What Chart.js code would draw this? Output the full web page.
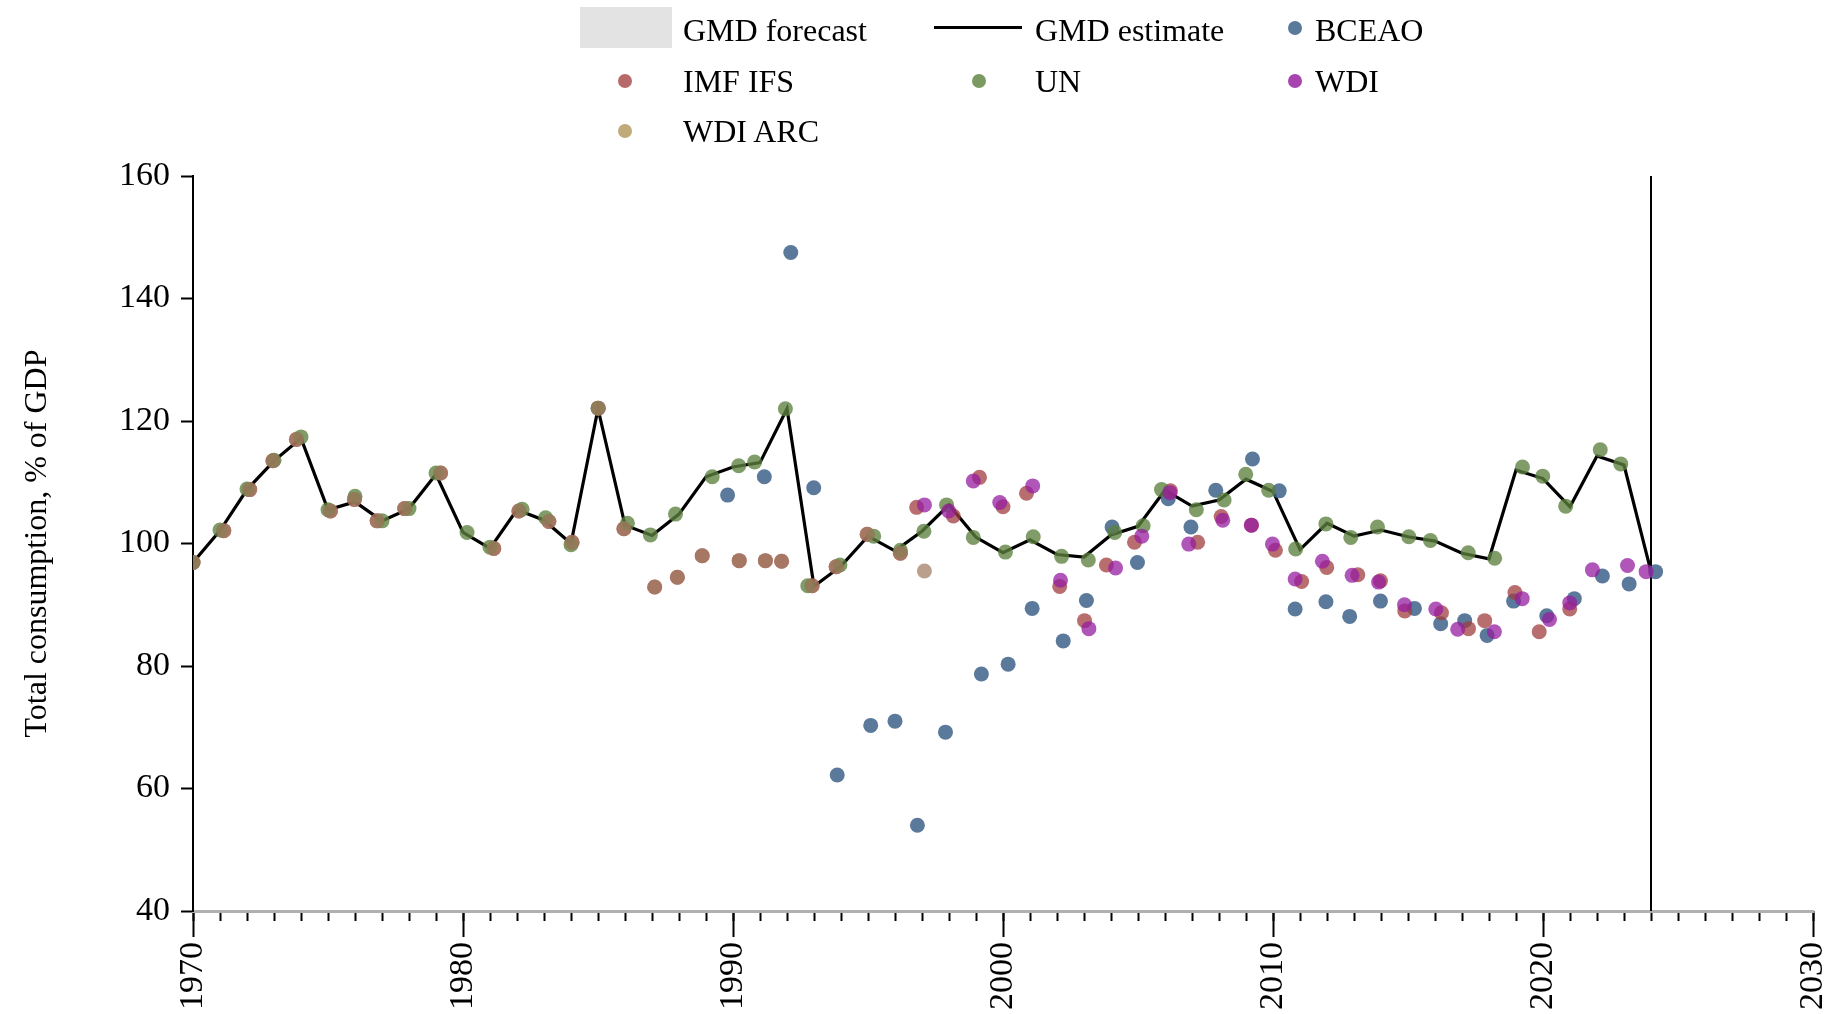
<!DOCTYPE html>
<html>
<head>
<meta charset="utf-8">
<title>Total consumption, % of GDP</title>
<script src="https://cdn.jsdelivr.net/npm/chart.js@4.4.1/dist/chart.umd.min.js"></script>
<style>
  html, body { margin: 0; padding: 0; background: #fff; }
  #wrap { position: relative; width: 1837px; height: 1014px; overflow: hidden; }
  #chart { position: absolute; left: 0; top: 0; }
  .leg { position: absolute; font-family: "Liberation Serif", "Times New Roman", serif; font-size: 32px; line-height: 36px; color: #000; white-space: nowrap; }
  .sym { position: absolute; }
  .dot { width: 14px; height: 14px; border-radius: 50%; }
</style>
</head>
<body>
<div id="wrap">
  <canvas id="chart" width="1837" height="1014"></canvas>
  <!-- leyenda en HTML, rejilla de 3 columnas -->
  <div class="sym" style="left:580px;top:7px;width:92px;height:41px;background:#e3e3e3;"></div>
  <div class="leg" style="left:683px;top:12px;">GMD forecast</div>
  <div class="sym" style="left:934px;top:26px;width:88px;height:3px;background:#000;"></div>
  <div class="leg" style="left:1035px;top:12px;">GMD estimate</div>
  <div class="sym dot" style="left:1288px;top:21px;background:#5a7a9a;"></div>
  <div class="leg" style="left:1315px;top:12px;">BCEAO</div>

  <div class="sym dot" style="left:618px;top:74px;background:#b86a6a;"></div>
  <div class="leg" style="left:683px;top:63px;">IMF IFS</div>
  <div class="sym dot" style="left:972px;top:74px;background:#7a9a62;"></div>
  <div class="leg" style="left:1035px;top:63px;">UN</div>
  <div class="sym dot" style="left:1288px;top:74px;background:#a844b0;"></div>
  <div class="leg" style="left:1315px;top:63px;">WDI</div>

  <div class="sym dot" style="left:618px;top:124px;background:#c0aa7a;"></div>
  <div class="leg" style="left:683px;top:113px;">WDI ARC</div>
</div>
<script>
// ---------- Datos ----------
const yAxisTitle = "Total consumption, % of GDP";
const xMin = 1970, xMax = 2030, xStep = 10;
const yMin = 40, yMax = 160, yStep = 20;
const forecastStart = 2024;

// GMD estimate (línea), 1970-2024
const gmdYears = [];
for (let y = 1970; y <= 2024; y++) gmdYears.push(y);
const gmdValues = [
  96.9, 102.1, 108.8, 113.5, 117.2, 105.5, 106.8, 103.7, 105.7, 111.3,
  101.8, 99.2, 105.5, 103.8, 100.0, 122.0, 103.0, 101.3, 104.8, 110.9,
  112.5, 113.2, 122.0, 93.0, 96.3, 101.2, 98.8, 102.0, 106.3, 101.0,
  98.5, 100.6, 98.2, 97.8, 101.4, 102.8, 108.7, 106.1, 107.1, 110.5,
  108.5, 99.0, 103.3, 101.2, 102.2, 101.1, 100.4, 98.4, 97.5, 112.0,
  110.6, 106.0, 114.3, 112.8, 95.4
];

// BCEAO
const bceaoYears = [1989.8, 1991.16, 1992.14, 1992.99, 1993.86, 1995.1, 1996.0, 1996.83, 1997.87, 1999.2,
  2000.19, 2001.08, 2002.23, 2003.09, 2004.04, 2004.98, 2006.12, 2006.96, 2007.88, 2009.24,
  2010.23, 2010.82, 2011.96, 2012.84, 2013.98, 2015.24, 2016.21, 2017.1, 2017.93, 2018.91,
  2020.14, 2021.16, 2022.2, 2023.19, 2024.17];
const bceaoValues = [107.9, 110.9, 147.5, 109.1, 62.2, 70.3, 71.0, 54.0, 69.2, 78.7,
  80.3, 89.4, 84.1, 90.7, 102.7, 96.9, 107.3, 102.7, 108.7, 113.8,
  108.6, 89.3, 90.5, 88.1, 90.6, 89.4, 86.9, 87.4, 85.0, 90.6,
  88.2, 91.0, 94.7, 93.4, 95.4];

// IMF IFS
const imfYears = [1970.0, 1971.14, 1972.1, 1972.96, 1973.83, 1975.09, 1975.98, 1976.82, 1977.84, 1979.17,
  1981.14, 1982.07, 1983.18, 1984.04, 1985.01, 1985.96, 1987.1, 1987.94, 1988.86, 1990.23,
  1991.2, 1991.8, 1992.93, 1993.82, 1994.97, 1996.2, 1996.8, 1998.16, 1999.13, 2000.0,
  2000.87, 2002.1, 2003.02, 2003.83, 2004.87, 2006.2, 2007.21, 2008.08, 2009.2, 2010.09,
  2011.06, 2011.99, 2013.14, 2013.98, 2014.88, 2016.24, 2017.24, 2017.84, 2018.96, 2019.86,
  2020.99];
const imfValues = [96.9, 102.1, 108.8, 113.5, 117.0, 105.3, 107.2, 103.7, 105.7, 111.5,
  99.2, 105.3, 103.6, 100.2, 122.1, 102.4, 92.9, 94.5, 98.0, 97.2,
  97.2, 97.1, 93.1, 96.2, 101.5, 98.4, 105.9, 104.5, 110.8, 106.0,
  108.2, 93.0, 87.4, 96.5, 100.2, 108.6, 100.2, 104.4, 103.0, 98.9,
  93.8, 96.1, 94.9, 93.9, 89.0, 88.7, 86.1, 87.4, 92.0, 85.6,
  89.3];

// UN
const unYears = [1970.0, 1971.0, 1972.0, 1973.0, 1974.0, 1975.0, 1976.0, 1977.0, 1978.0, 1979.0,
  1980.15, 1981.0, 1982.19, 1983.06, 1984.0, 1985.0, 1986.09, 1986.94, 1987.87, 1989.23,
  1990.21, 1990.8, 1991.94, 1992.77, 1993.96, 1995.21, 1996.2, 1997.07, 1997.91, 1998.9,
  2000.09, 2001.12, 2002.17, 2003.16, 2004.14, 2005.19, 2005.87, 2007.16, 2008.19, 2008.99,
  2009.84, 2010.84, 2011.96, 2012.88, 2013.87, 2015.03, 2015.83, 2017.23, 2018.21, 2019.24,
  2019.99, 2020.84, 2022.12, 2022.88];
const unValues = [96.9, 102.2, 108.9, 113.6, 117.4, 105.5, 107.7, 103.7, 105.7, 111.5,
  101.8, 99.4, 105.6, 104.2, 99.8, 122.1, 103.3, 101.4, 104.8, 110.9,
  112.7, 113.3, 122.0, 93.1, 96.5, 101.2, 98.9, 102.0, 106.3, 101.0,
  98.6, 101.1, 97.9, 97.3, 101.8, 102.9, 108.8, 105.5, 107.1, 111.3,
  108.7, 99.1, 103.2, 101.0, 102.7, 101.1, 100.5, 98.5, 97.6, 112.5,
  111.0, 106.1, 115.3, 113.0];

// WDI
const wdiYears = [1997.09, 1997.99, 1998.9, 1999.88, 2001.1, 2002.13, 2003.18, 2004.17, 2005.14, 2006.18,
  2006.88, 2008.14, 2009.2, 2009.98, 2010.82, 2011.83, 2012.93, 2013.91, 2014.87, 2016.03,
  2016.84, 2018.2, 2019.23, 2020.24, 2020.99, 2021.83, 2023.13, 2023.82];
const wdiValues = [106.3, 105.3, 110.2, 106.7, 109.4, 94.0, 86.1, 96.0, 101.2, 108.3,
  99.9, 103.8, 103.0, 99.9, 94.2, 97.1, 94.8, 93.7, 90.0, 89.3,
  86.0, 85.6, 91.0, 87.6, 90.3, 95.7, 96.4, 95.4];

// WDI ARC (coincide con IMF IFS hasta 1996)
const arcYears = [1970.0, 1971.14, 1972.1, 1972.96, 1973.83, 1975.09, 1975.98, 1976.82, 1977.84, 1979.17,
  1981.14, 1982.07, 1983.18, 1984.04, 1985.01, 1985.96, 1987.1, 1987.94, 1988.86, 1990.23,
  1991.2, 1991.8, 1992.93, 1993.82, 1994.97, 1996.2, 1997.09];
const arcValues = [96.9, 102.1, 108.8, 113.5, 117.0, 105.3, 107.2, 103.7, 105.7, 111.5,
  99.2, 105.3, 103.6, 100.2, 122.1, 102.4, 92.9, 94.5, 98.0, 97.2,
  97.2, 97.1, 93.1, 96.2, 101.5, 98.4, 95.5];

// ---------- Helpers ----------
const FONT = "'Liberation Serif', 'Times New Roman', serif";
function pts(xs, ys) { return xs.map((x, i) => ({ x: x, y: ys[i] })); }
function dots(label, xs, ys, color, order) {
  return { label, type: 'scatter', data: pts(xs, ys), backgroundColor: color, borderWidth: 0,
           pointRadius: 7.5, pointHoverRadius: 7.5, order };
}
// sin relleno extra por las etiquetas rotadas
function noSidePad(s) { s.paddingLeft = 0; s.paddingRight = 0; }

const datasets = [
  { label: 'GMD estimate', type: 'scatter', data: pts(gmdYears, gmdValues), showLine: true,
    borderColor: '#000', borderWidth: 3.2, pointRadius: 0, order: 10 },
  { label: 'forecast line', type: 'scatter', data: [{ x: forecastStart, y: yMin }, { x: forecastStart, y: yMax }],
    showLine: true, borderColor: '#000', borderWidth: 2, pointRadius: 0, order: 9 },
  dots('BCEAO',   bceaoYears, bceaoValues, 'rgba(62,98,138,0.85)', 6),
  dots('IMF IFS', imfYears,   imfValues,   'rgba(160,62,62,0.75)', 5),
  dots('UN',      unYears,    unValues,    'rgba(92,128,62,0.78)', 4),
  dots('WDI',     wdiYears,   wdiValues,   'rgba(150,30,160,0.75)', 3),
  dots('WDI ARC', arcYears,   arcValues,   'rgba(160,124,96,0.72)', 2)
];

new Chart(document.getElementById('chart').getContext('2d'), {
  type: 'scatter',
  data: { datasets },
  options: {
    responsive: false,
    animation: false,
    devicePixelRatio: 1,
    layout: { padding: { top: 176, right: 24, left: 0, bottom: 0 } },
    plugins: { legend: { display: false }, tooltip: { enabled: false } },
    scales: {
      xMinor: {
        type: 'linear', position: 'bottom', min: xMin, max: xMax, weight: 0,
        ticks: { stepSize: 1, display: false },
        grid: { drawOnChartArea: false, drawTicks: true, tickLength: 10, color: '#000', tickWidth: 2 },
        border: { display: false },
        afterFit: (s) => { s.height = 0; noSidePad(s); }
      },
      x: {
        type: 'linear', position: 'bottom', min: xMin, max: xMax, weight: 1,
        ticks: { stepSize: xStep, minRotation: 90, maxRotation: 90, padding: 5, color: '#000',
                 font: { family: FONT, size: 34 }, callback: (v) => String(v) },
        grid: { drawOnChartArea: false, drawTicks: true, tickLength: 26, color: '#000', tickWidth: 2 },
        border: { display: true, color: '#b0b0b0', width: 3 },
        afterFit: (s) => { s.height = 103; noSidePad(s); }
      },
      y: {
        type: 'linear', position: 'left', min: yMin, max: yMax,
        ticks: { stepSize: yStep, padding: 11, color: '#000', font: { family: FONT, size: 34 } },
        grid: { drawOnChartArea: false, drawTicks: true, tickLength: 12, color: '#000', tickWidth: 2 },
        border: { display: true, color: '#000', width: 2 },
        title: { display: true, text: yAxisTitle, color: '#000', font: { family: FONT, size: 32 },
                 padding: { top: 18, bottom: 0 } },
        afterFit: (s) => { s.width = 193; }
      }
    }
  }
});
</script>
</body>
</html>
